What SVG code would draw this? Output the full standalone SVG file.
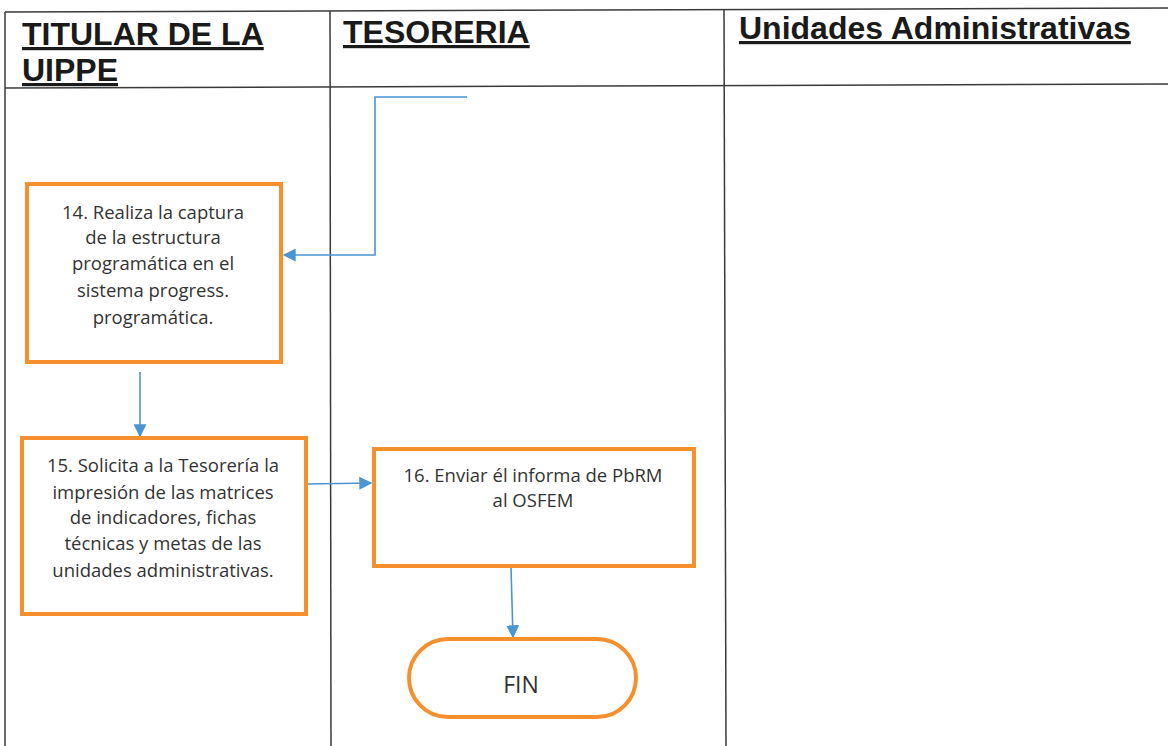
<svg xmlns="http://www.w3.org/2000/svg" width="1168" height="746" viewBox="0 0 1168 746">
<defs>
<marker id="arr" viewBox="0 0 10 10" refX="9" refY="5" markerWidth="14" markerHeight="13" markerUnits="userSpaceOnUse" orient="auto">
<path d="M0,0 L10,5 L0,10 z" fill="#4A94D2"/>
</marker>
<style>
.grid{stroke:#3a3a3a;stroke-width:1.5;fill:none}
.hdr{font-family:"Liberation Sans",Arial,sans-serif;font-weight:bold;font-size:32px;fill:#1a1a1a;text-decoration:underline}
.box{fill:#fff;stroke:#F6902E;stroke-width:4}
.txt{font-family:"Open Sans","Liberation Sans",sans-serif;font-size:18.5px;fill:#333;text-anchor:middle}
.con{stroke:#4A94D2;stroke-width:1.6;fill:none}
</style>
</defs>
<rect width="1168" height="746" fill="#fff"/>
<g id="table">
<line class="grid" x1="5" y1="12" x2="1168" y2="8"/>
<line class="grid" x1="5" y1="88" x2="1168" y2="84"/>
<line class="grid" x1="5" y1="12" x2="5" y2="746"/>
<line class="grid" x1="330" y1="11" x2="331" y2="746"/>
<line class="grid" x1="724" y1="9" x2="726" y2="746"/>
<text class="hdr" x="22" y="45">TITULAR DE LA</text>
<text class="hdr" x="22" y="81">UIPPE</text>
<text class="hdr" x="343" y="43">TESORERIA</text>
<text class="hdr" x="739" y="39">Unidades Administrativas</text>
</g>
<g id="connectors">
<polyline class="con" points="467,97 375,97 375,255 284,255" marker-end="url(#arr)"/>
<line class="con" x1="140" y1="372" x2="140" y2="436" marker-end="url(#arr)"/>
<line class="con" x1="308" y1="484" x2="371" y2="483" marker-end="url(#arr)"/>
<line class="con" x1="511" y1="568" x2="513" y2="637" marker-end="url(#arr)"/>
</g>
<g id="n14">
<rect class="box" x="27" y="184" width="254" height="178"/>
<text class="txt" x="153" y="219">14. Realiza la captura</text>
<text class="txt" x="153" y="244">de la estructura</text>
<text class="txt" x="153" y="270">programática en el</text>
<text class="txt" x="153" y="297">sistema progress.</text>
<text class="txt" x="153" y="324">programática.</text>
</g>
<g id="n15">
<rect class="box" x="22" y="438" width="284" height="176"/>
<text class="txt" x="163" y="472">15. Solicita a la Tesorería la</text>
<text class="txt" x="163" y="499">impresión de las matrices</text>
<text class="txt" x="163" y="524">de indicadores, fichas</text>
<text class="txt" x="163" y="550">técnicas y metas de las</text>
<text class="txt" x="163" y="577">unidades administrativas.</text>
</g>
<g id="n16">
<rect class="box" x="374" y="449" width="320" height="117"/>
<text class="txt" x="533" y="482">16. Enviar él informa de PbRM</text>
<text class="txt" x="533" y="507">al OSFEM</text>
</g>
<g id="fin">
<rect class="box" x="409" y="639" width="227" height="78" rx="39"/>
<text class="txt" x="521" y="693" style="font-size:23px">FIN</text>
</g>
</svg>
